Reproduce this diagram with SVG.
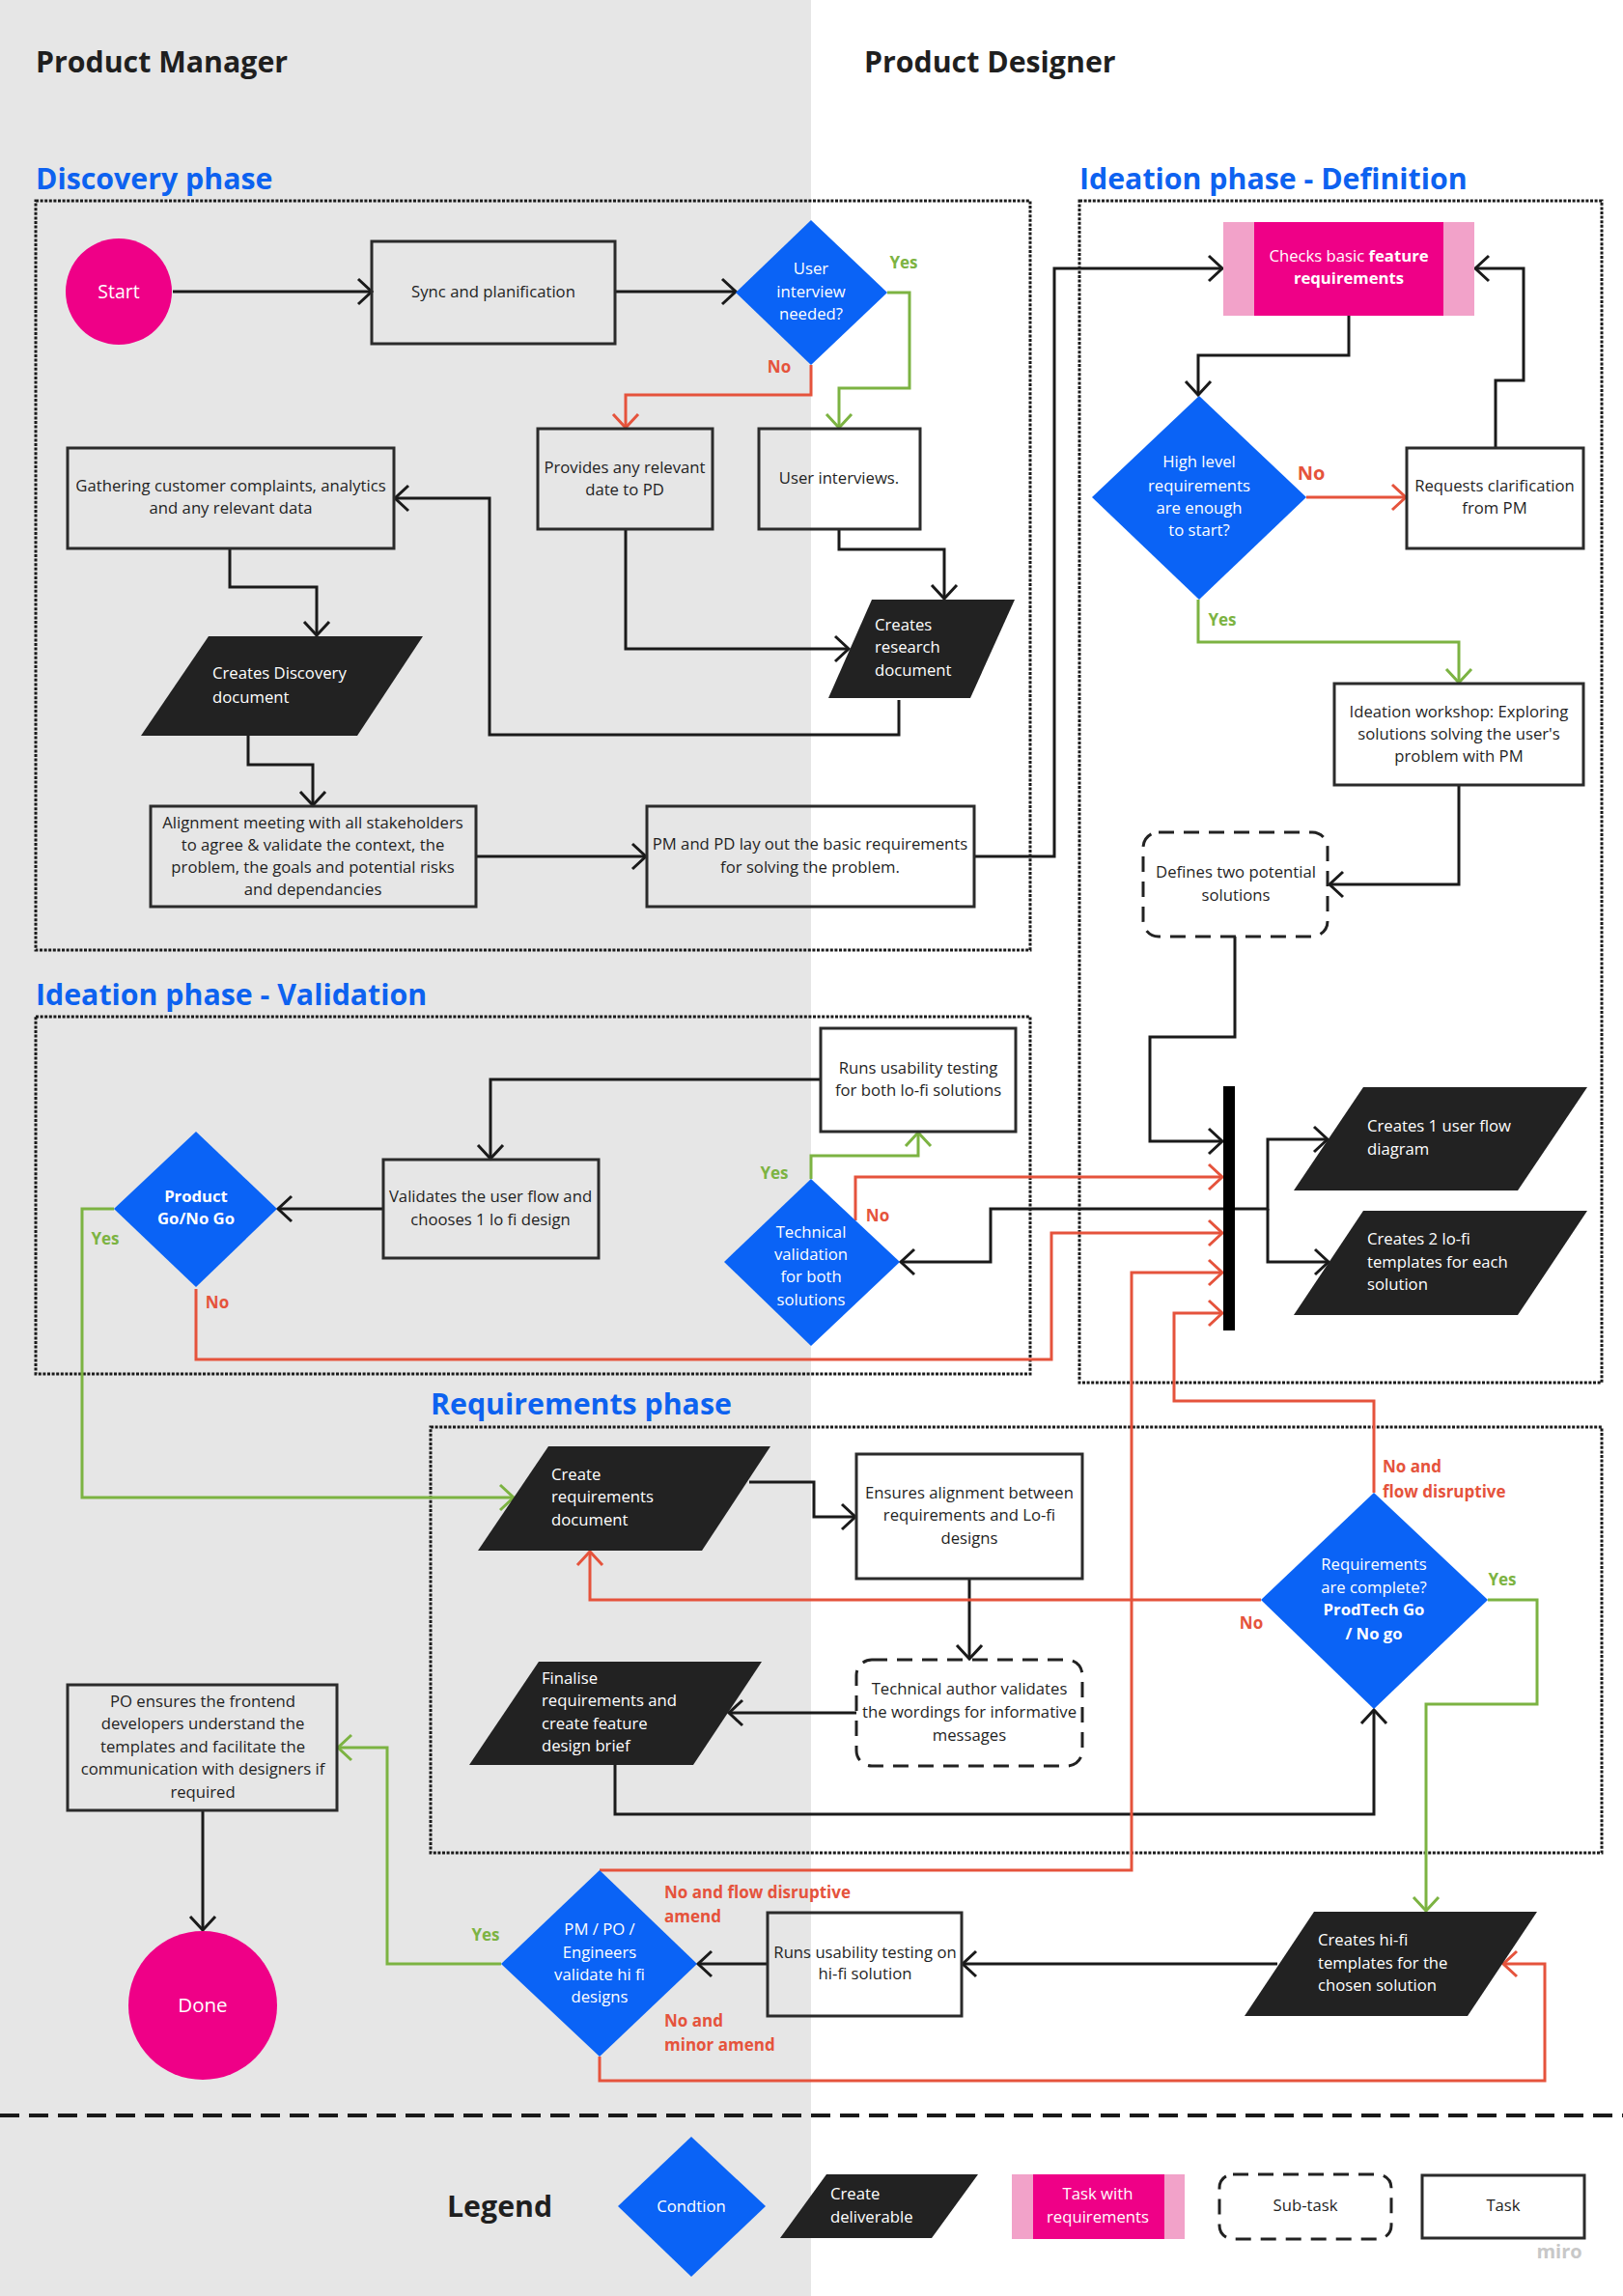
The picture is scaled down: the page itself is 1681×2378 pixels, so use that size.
<svg xmlns="http://www.w3.org/2000/svg" width="1681" height="2378" viewBox="0 0 1681 2378">
<style>
text{font-family:"Open Sans","Liberation Sans",sans-serif;font-size:16.7px;fill:#1f1f1f}
.c{text-anchor:middle}
.w{fill:#fff}
.b{font-weight:700}
.h1{font-size:30.3px;font-weight:700}
.ph{font-size:30.3px;font-weight:700;fill:#0d62f0}
.lg{font-size:17px;font-weight:700;fill:#7cb342}
.lr{font-size:17px;font-weight:700;fill:#e5533c}
.box{fill:none;stroke:#2b2b2b;stroke-width:3}
.sub{fill:none;stroke:#222;stroke-width:3;stroke-dasharray:16 10}
.cont{fill:none;stroke:#1a1a1a;stroke-width:3;stroke-dasharray:3 1.6}
.para{fill:#222}
.dia{fill:#0a63f6}
.mag{fill:#ef0087}
.pink{fill:#f2a2c9}
.k{fill:none;stroke:#1a1a1a;stroke-width:3;marker-end:url(#ak)}
.r{fill:none;stroke:#e5533c;stroke-width:3;marker-end:url(#ar)}
.g{fill:none;stroke:#7cb342;stroke-width:3;marker-end:url(#ag)}
</style>
<defs>
<marker id="ak" markerUnits="userSpaceOnUse" markerWidth="20" markerHeight="30" refX="16" refY="14" orient="auto" overflow="visible"><path d="M2,1 L16,14 L2,27" fill="none" stroke="#1a1a1a" stroke-width="3"/></marker>
<marker id="ar" markerUnits="userSpaceOnUse" markerWidth="20" markerHeight="30" refX="16" refY="14" orient="auto" overflow="visible"><path d="M2,1 L16,14 L2,27" fill="none" stroke="#e5533c" stroke-width="3"/></marker>
<marker id="ag" markerUnits="userSpaceOnUse" markerWidth="20" markerHeight="30" refX="16" refY="14" orient="auto" overflow="visible"><path d="M2,1 L16,14 L2,27" fill="none" stroke="#7cb342" stroke-width="3"/></marker>
</defs>

<rect x="0" y="0" width="1681" height="2378" fill="#fff"/>
<rect x="0" y="0" width="840" height="2378" fill="#e6e6e6"/>

<g id="titles">
<text class="h1" x="37" y="75">Product Manager</text>
<text class="h1" x="895" y="75">Product Designer</text>
<text class="ph" x="37" y="196">Discovery phase</text>
<text class="ph" x="1118" y="196">Ideation phase - Definition</text>
<text class="ph" x="37" y="1041">Ideation phase - Validation</text>
<text class="ph" x="446" y="1465">Requirements phase</text>
</g>

<g id="containers">
<rect class="cont" x="37" y="208" width="1030" height="776"/>
<rect class="cont" x="1118" y="208" width="541" height="1224"/>
<rect class="cont" x="37" y="1053" width="1030" height="370"/>
<rect class="cont" x="446" y="1478" width="1213" height="441"/>
</g>

<g id="connectors">
<path class="k" d="M179,302 H385"/>
<path class="k" d="M637,302 H762"/>
<path class="k" d="M931,725 V761 H507 V516 H409"/>
<path class="k" d="M648,548 V672 H879"/>
<path class="k" d="M869,548 V569 H978 V620"/>
<path class="k" d="M238,568 V608 H328 V658"/>
<path class="k" d="M257,762 V792 H324 V834"/>
<path class="k" d="M493,887 H669"/>
<path class="k" d="M1009,887 H1092 V278 H1266"/>
<path class="k" d="M1397,327 V368 H1241 V409"/>
<path class="k" d="M1549,464 V394 H1578 V278 H1528"/>
<path class="k" d="M1511,813 V916 H1377"/>
<path class="k" d="M1279,970 V1074 H1191 V1182 H1266"/>
<path class="k" d="M1279,1252 H1313 V1180 H1375"/>
<path class="k" d="M1313,1252 V1307 H1376"/>
<path class="k" d="M1267,1252 H1026 V1307 H933"/>
<path class="k" d="M850,1118 H508 V1200"/>
<path class="k" d="M397,1252 H288"/>
<path class="k" d="M776,1535 H843 V1571 H886"/>
<path class="k" d="M1004,1635 V1718"/>
<path class="k" d="M887,1774 H755"/>
<path class="k" d="M637,1828 V1879 H1423 V1771"/>
<path class="k" d="M1323,2034 H997"/>
<path class="k" d="M795,2034 H723"/>
<path class="k" d="M210,1875 V1999"/>

<path class="r" d="M840,378 V409 H648 V443"/>
<path class="r" d="M1353,515 H1456"/>
<path class="r" d="M886,1264 V1219 H1266"/>
<path class="r" d="M203,1335 V1408 H1089 V1277 H1266"/>
<path class="r" d="M621,1937 H1172 V1318 H1266"/>
<path class="r" d="M1423,1546 V1451 H1216 V1360 H1266"/>
<path class="r" d="M1306,1657 H611 V1607"/>
<path class="r" d="M621,2130 V2155 H1600 V2034 H1557"/>

<path class="g" d="M919,303 H942 V402 H869 V443"/>
<path class="g" d="M1241,621 V665 H1511 V707"/>
<path class="g" d="M840,1221 V1197 H951 V1173"/>
<path class="g" d="M118,1252 H85 V1551 H532"/>
<path class="g" d="M1541,1657 H1592 V1765 H1477 V1979"/>
<path class="g" d="M519,2034 H401 V1810 H350"/>
</g>

<g id="labels">
<text class="lg c" x="936" y="278">Yes</text>
<text class="lr c" x="807" y="386">No</text>
<text class="lr c" x="1358" y="497" style="font-size:20px">No</text>
<text class="lg c" x="1266" y="648">Yes</text>
<text class="lg c" x="802" y="1221">Yes</text>
<text class="lr c" x="909" y="1265">No</text>
<text class="lg c" x="109" y="1289">Yes</text>
<text class="lr c" x="225" y="1355">No</text>
<text class="lr" x="1432" y="1525">No and</text>
<text class="lr" x="1432" y="1551">flow disruptive</text>
<text class="lr c" x="1296" y="1687">No</text>
<text class="lg c" x="1556" y="1642">Yes</text>
<text class="lg c" x="503" y="2010">Yes</text>
<text class="lr" x="688" y="1966">No and flow disruptive</text>
<text class="lr" x="688" y="1991">amend</text>
<text class="lr" x="688" y="2099">No and</text>
<text class="lr" x="688" y="2124">minor amend</text>
</g>

<g id="start"><circle class="mag" cx="123" cy="302" r="55"/><text class="c w" x="123" y="309" style="font-size:19.5px">Start</text></g>
<g id="sync"><rect class="box" x="385" y="250" width="252" height="106"/><text class="c" x="511" y="308">Sync and planification</text></g>
<g id="user-interview-needed"><polygon class="dia" points="840,228 919,303 840,378 762,303"/><text class="c w" x="840" y="284">User</text><text class="c w" x="840" y="308">interview</text><text class="c w" x="840" y="331">needed?</text></g>
<g id="provides"><rect class="box" x="557" y="444" width="181" height="104"/><text class="c" x="647" y="490">Provides any relevant</text><text class="c" x="647" y="513">date to PD</text></g>
<g id="user-interviews"><rect class="box" x="786" y="444" width="167" height="104"/><text class="c" x="869" y="501">User interviews.</text></g>
<g id="gathering"><rect class="box" x="70" y="464" width="338" height="104"/><text class="c" x="239" y="509">Gathering customer complaints, analytics</text><text class="c" x="239" y="532">and any relevant data</text></g>
<g id="discovery-doc"><polygon class="para" points="216,659 438,659 370,762 146,762"/><text class="w" x="220" y="703">Creates Discovery</text><text class="w" x="220" y="728">document</text></g>
<g id="research-doc"><polygon class="para" points="903,621 1051,621 1005,723 858,723"/><text class="w" x="906" y="653">Creates</text><text class="w" x="906" y="676">research</text><text class="w" x="906" y="700">document</text></g>
<g id="alignment"><rect class="box" x="156" y="835" width="337" height="104"/><text class="c" x="324" y="858">Alignment meeting with all stakeholders</text><text class="c" x="324" y="881">to agree &amp; validate the context, the</text><text class="c" x="324" y="904">problem, the goals and potential risks</text><text class="c" x="324" y="927">and dependancies</text></g>
<g id="pm-pd"><rect class="box" x="670" y="835" width="339" height="104"/><text class="c" x="839" y="880">PM and PD lay out the basic requirements</text><text class="c" x="839" y="904">for solving the problem.</text></g>

<g id="checks"><rect class="pink" x="1267" y="230" width="260" height="97"/><rect class="mag" x="1299" y="230" width="196" height="97"/><text class="c w" x="1397" y="271">Checks basic <tspan class="b">feature</tspan></text><text class="c w b" x="1397" y="294">requirements</text></g>
<g id="high-level"><polygon class="dia" points="1242,410 1353,515 1242,621 1131,515"/><text class="c w" x="1242" y="484">High level</text><text class="c w" x="1242" y="509">requirements</text><text class="c w" x="1242" y="532">are enough</text><text class="c w" x="1242" y="555">to start?</text></g>
<g id="requests"><rect class="box" x="1457" y="464" width="183" height="104"/><text class="c" x="1548" y="509">Requests clarification</text><text class="c" x="1548" y="532">from PM</text></g>
<g id="workshop"><rect class="box" x="1382" y="708" width="258" height="105"/><text class="c" x="1511" y="743">Ideation workshop: Exploring</text><text class="c" x="1511" y="766">solutions solving the user's</text><text class="c" x="1511" y="789">problem with PM</text></g>
<g id="defines"><rect class="sub" x="1184" y="862" width="191" height="108" rx="16"/><text class="c" x="1280" y="909">Defines two potential</text><text class="c" x="1280" y="933">solutions</text></g>
<g id="fork"><rect x="1267" y="1125" width="12" height="253" fill="#000"/></g>
<g id="user-flow"><polygon class="para" points="1412,1126 1644,1126 1572,1233 1340,1233"/><text class="w" x="1416" y="1172">Creates 1 user flow</text><text class="w" x="1416" y="1196">diagram</text></g>
<g id="lofi"><polygon class="para" points="1412,1254 1644,1254 1572,1362 1340,1362"/><text class="w" x="1416" y="1289">Creates 2 lo-fi</text><text class="w" x="1416" y="1313">templates for each</text><text class="w" x="1416" y="1336">solution</text></g>

<g id="usability-lofi"><rect class="box" x="850" y="1065" width="202" height="107"/><text class="c" x="951" y="1112">Runs usability testing</text><text class="c" x="951" y="1135">for both lo-fi solutions</text></g>
<g id="tech-validation"><polygon class="dia" points="840,1221 932,1307 840,1394 750,1307"/><text class="c w" x="840" y="1282">Technical</text><text class="c w" x="840" y="1305">validation</text><text class="c w" x="840" y="1328">for both</text><text class="c w" x="840" y="1352">solutions</text></g>
<g id="validates"><rect class="box" x="397" y="1201" width="223" height="102"/><text class="c" x="508" y="1245">Validates the user flow and</text><text class="c" x="508" y="1269">chooses 1 lo fi design</text></g>
<g id="product-go"><polygon class="dia" points="203,1172 287,1252 203,1333 118,1252"/><text class="c w b" x="203" y="1245">Product</text><text class="c w b" x="203" y="1268">Go/No Go</text></g>

<g id="req-doc"><polygon class="para" points="568,1498 798,1498 727,1606 495,1606"/><text class="w" x="571" y="1533">Create</text><text class="w" x="571" y="1556">requirements</text><text class="w" x="571" y="1580">document</text></g>
<g id="ensures"><rect class="box" x="887" y="1506" width="234" height="129"/><text class="c" x="1004" y="1552">Ensures alignment between</text><text class="c" x="1004" y="1575">requirements and Lo-fi</text><text class="c" x="1004" y="1599">designs</text></g>
<g id="tech-author"><rect class="sub" x="887" y="1719" width="234" height="110" rx="16"/><text class="c" x="1004" y="1755">Technical author validates</text><text class="c" x="1004" y="1779">the wordings for informative</text><text class="c" x="1004" y="1803">messages</text></g>
<g id="finalise"><polygon class="para" points="558,1721 789,1721 718,1828 486,1828"/><text class="w" x="561" y="1744">Finalise</text><text class="w" x="561" y="1767">requirements and</text><text class="w" x="561" y="1791">create feature</text><text class="w" x="561" y="1814">design brief</text></g>
<g id="req-complete"><polygon class="dia" points="1423,1546 1541,1657 1423,1770 1306,1657"/><text class="c w" x="1423" y="1626">Requirements</text><text class="c w" x="1423" y="1650">are complete?</text><text class="c w b" x="1423" y="1673">ProdTech Go</text><text class="c w b" x="1423" y="1698">/ No go</text></g>

<g id="hifi"><polygon class="para" points="1361,1980 1592,1980 1520,2088 1289,2088"/><text class="w" x="1365" y="2015">Creates hi-fi</text><text class="w" x="1365" y="2039">templates for the</text><text class="w" x="1365" y="2062">chosen solution</text></g>
<g id="usability-hifi"><rect class="box" x="795" y="1981" width="201" height="107"/><text class="c" x="896" y="2028">Runs usability testing on</text><text class="c" x="896" y="2050">hi-fi solution</text></g>
<g id="validate-hifi"><polygon class="dia" points="621,1937 722,2034 621,2130 519,2034"/><text class="c w" x="621" y="2004">PM / PO /</text><text class="c w" x="621" y="2028">Engineers</text><text class="c w" x="621" y="2051">validate hi fi</text><text class="c w" x="621" y="2074">designs</text></g>
<g id="po-ensures"><rect class="box" x="70" y="1745" width="279" height="130"/><text class="c" x="210" y="1768">PO ensures the frontend</text><text class="c" x="210" y="1791">developers understand the</text><text class="c" x="210" y="1815">templates and facilitate the</text><text class="c" x="210" y="1838">communication with designers if</text><text class="c" x="210" y="1862">required</text></g>
<g id="done"><circle class="mag" cx="210" cy="2077" r="77"/><text class="c w" x="210" y="2084" style="font-size:20.5px">Done</text></g>

<g id="legend">
<path d="M0,2191 H1681" stroke="#1a1a1a" stroke-width="4" stroke-dasharray="20 10" fill="none"/>
<text class="b" x="463" y="2296" style="font-size:30.3px">Legend</text>
<polygon class="dia" points="716,2213 793,2285 716,2358 640,2285"/><text class="c w" x="716" y="2291">Condtion</text>
<polygon class="para" points="856,2252 1013,2252 965,2318 808,2318"/><text class="w" x="860" y="2278">Create</text><text class="w" x="860" y="2302">deliverable</text>
<rect class="pink" x="1048" y="2252" width="179" height="67"/><rect class="mag" x="1070" y="2252" width="136" height="67"/><text class="c w" x="1137" y="2278">Task with</text><text class="c w" x="1137" y="2302">requirements</text>
<rect class="sub" x="1263" y="2252" width="178" height="67" rx="14"/><text class="c" x="1352" y="2290">Sub-task</text>
<rect class="box" x="1473" y="2253" width="168" height="65"/><text class="c" x="1557" y="2290">Task</text>
<text class="c b" x="1615" y="2339" style="font-size:20px;fill:#c8c8c8">miro</text>
</g>
</svg>
